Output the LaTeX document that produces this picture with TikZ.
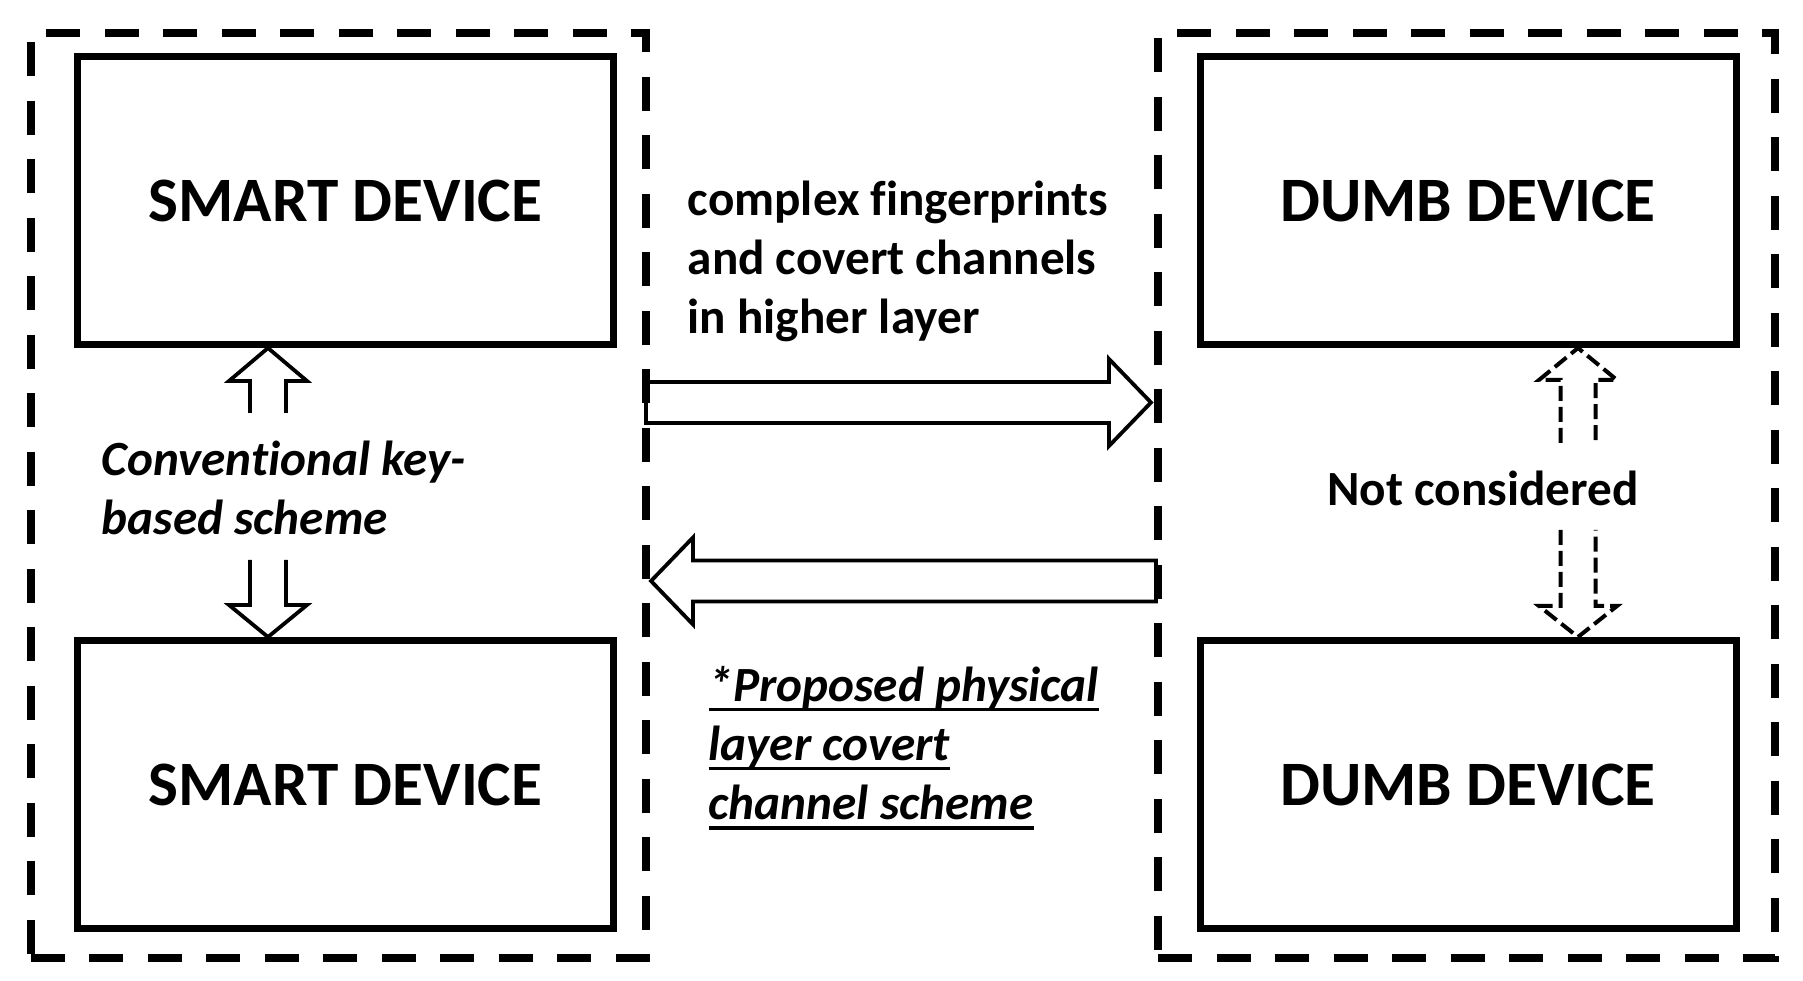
\documentclass[tikz,border=0pt]{standalone}
\usepackage{fontspec}
\setmainfont{Carlito}
\usetikzlibrary{calc}
\newsavebox{\undlbox}
\newcommand{\undl}[1]{\sbox\undlbox{#1}\rlap{\rule[-0.2em]{\wd\undlbox}{0.075em}}\usebox\undlbox}

\begin{document}
\begin{tikzpicture}[
  grp/.style={draw, line width=0.08cm, dash pattern=on 0.34cm off 0.245cm,
    minimum width=6.15cm, minimum height=9.25cm, inner sep=0pt, outer sep=0pt},
  dev/.style={draw, line width=0.07cm, minimum width=5.36cm, minimum height=2.88cm,
    inner sep=0pt, font=\fontsize{18}{22}\selectfont\bfseries},
  lbl/.style={inner sep=0pt, align=left, anchor=west,
    font=\fontsize{14}{16.8}\selectfont\bfseries},
  lbli/.style={lbl, font=\fontsize{14}{16.8}\selectfont\bfseries\itshape},
  blk/.style={draw, line width=0.038cm, line join=miter},
  blkd/.style={blk, line width=0.04cm, dash pattern=on 0.15cm off 0.06cm}
]
  \useasboundingbox (0,0) rectangle (18.03,9.81);
  \node[grp] (lgrp) at (3.385, 4.855) {};
  \node[grp, minimum width=6.17cm] (rgrp) at (14.665, 4.855) {};
  \node[dev] (st) at (3.455, 7.805) {SMART DEVICE};
  \node[dev] (sb) at (3.455, 1.965) {SMART DEVICE};
  \node[dev] (dt) at (14.68, 7.805) {DUMB DEVICE};
  \node[dev] (db) at (14.68, 1.965) {DUMB DEVICE};
  \node[lbl] (hint) at (6.87, 7.20) {complex f\kern0pt ingerprints\\and covert channels\\in higher layer};
  \node[lbli] (conv) at (1.01, 4.93) {Convent\kern0pt ional key-\\based scheme};
  \node[lbl, anchor=center] (ncon) at (14.83, 4.93) {Not considered};
  \node[lbli] (prop) at (7.08, 2.33) {\undl{*Proposed physical}\\\undl{layer covert}\\\undl{channel scheme}};
  \coordinate (ku) at ($(st.south)+(-0.775,0)$);
  \coordinate (kd) at ($(sb.north)+(-0.775,0)$);
  \coordinate (nu) at ($(dt.south)+(1.10,0)$);
  \coordinate (nd) at ($(db.north)+(1.10,0)$);
  \coordinate (fwd) at ($(lgrp.east)+(0,0.93)$);
  \coordinate (bwd) at ($(rgrp.west)+(-0.02,-0.855)$);
  \draw[blk] (ku) ++(-0.18,-0.65) -- ++(0,0.32) -- ++(-0.21,0) -- (ku) -- ++(0.39,-0.33) -- ++(-0.21,0) -- ++(0,-0.32);
  \draw[blk] (kd) ++(-0.18,0.77) -- ++(0,-0.45) -- ++(-0.21,0) -- (kd) -- ++(0.39,0.32) -- ++(-0.21,0) -- ++(0,0.45);
  \draw[blkd] (nu) ++(-0.175,-0.95) -- ++(0,0.63) -- ++(-0.215,0) -- (nu) -- ++(0.39,-0.32) -- ++(-0.215,0) -- ++(0,-0.63);
  \draw[blkd] (nd) ++(-0.175,1.07) -- ++(0,-0.76) -- ++(-0.215,0) -- (nd) -- ++(0.39,0.31) -- ++(-0.215,0) -- ++(0,0.76);
  \draw[blk] (fwd) ++(0,0.205) -- ++(4.63,0) -- ++(0,0.23) -- ++(0.42,-0.435) -- ++(-0.42,-0.435) -- ++(0,0.23) -- ++(-4.63,0) -- cycle;
  \draw[blk] (bwd) ++(0,0.205) -- ++(-4.63,0) -- ++(0,0.23) -- ++(-0.42,-0.435) -- ++(0.42,-0.435) -- ++(0,0.23) -- ++(4.63,0) -- cycle;
\end{tikzpicture}
\end{document}
